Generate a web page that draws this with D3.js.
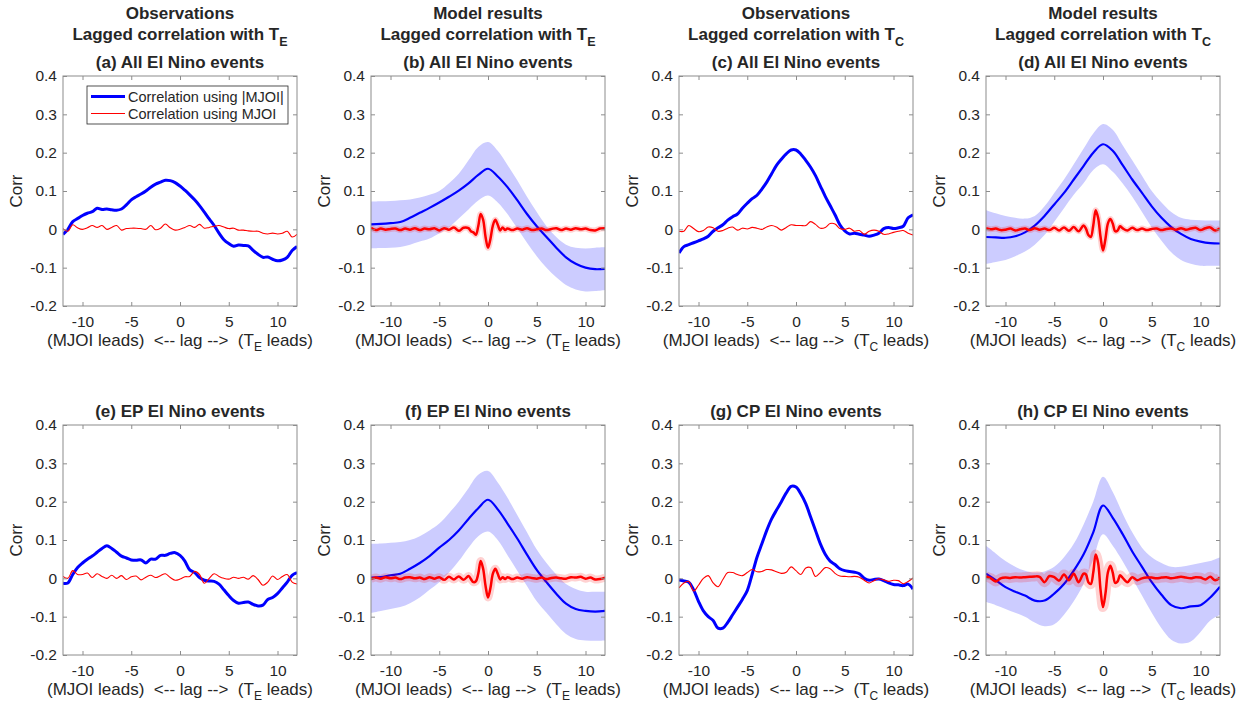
<!DOCTYPE html>
<html>
<head>
<meta charset="utf-8">
<script src="https://cdn.jsdelivr.net/npm/d3@7"></script>
<style>
  body { margin: 0; background: #fff; }
  text { font-family: "Liberation Sans", Arial, Helvetica, sans-serif; fill: #262626; }
</style>
</head>
<body>
<svg id="chart" width="1252" height="707"></svg>
<script>
// lags (months)
const lagObs = [-12, -11.5, -11, -10.5, -10, -9.5, -9, -8.5, -8, -7.5, -7, -6.5, -6, -5.5, -5, -4.5, -4, -3.5, -3, -2.5, -2, -1.5, -1, -0.5,
  0, 0.5, 1, 1.5, 2, 2.5, 3, 3.5, 4, 4.5, 5, 5.5, 6, 6.5, 7, 7.5, 8, 8.5, 9, 9.5, 10, 10.5, 11, 11.5, 12]
const lagModel = [-12, -11, -10, -9, -8, -7, -6, -5, -4, -3, -2, -1, 0, 1, 2, 3, 4, 5, 6, 7, 8, 9, 10, 11, 12]
const lagFine = [-12, -11.5, -11, -10.5, -10, -9.5, -9, -8.5, -8, -7.5, -7, -6.5, -6, -5.5, -5, -4.5, -4, -3.5, -3, -2.5,
  -2, -1.75, -1.5, -1.25, -1, -0.75, -0.5, -0.25, 0, 0.25, 0.5, 0.75, 1, 1.25, 1.5, 1.75, 2,
  2.5, 3, 3.5, 4, 4.5, 5, 5.5, 6, 6.5, 7, 7.5, 8, 8.5, 9, 9.5, 10, 10.5, 11, 11.5, 12]

const yTicks = [-0.2, -0.1, 0, 0.1, 0.2, 0.3, 0.4]
const xTicks = [-10, -5, 0, 5, 10]

// observations, T_E
const blueA = [-0.013, 0.0, 0.02, 0.028, 0.036, 0.042, 0.046, 0.055, 0.052, 0.053, 0.051, 0.05, 0.053, 0.064, 0.077, 0.085, 0.092, 0.1, 0.11, 0.118, 0.123, 0.128, 0.127, 0.122,
  0.113, 0.102, 0.09, 0.077, 0.062, 0.045, 0.027, 0.01, -0.01, -0.027, -0.037, -0.044, -0.041, -0.042, -0.043, -0.055, -0.065, -0.073, -0.072, -0.078, -0.082, -0.08, -0.073, -0.055, -0.045]
const redA = [0.002, -0.005, 0.012, 0.004, 0.0, 0.004, 0.01, 0.005, 0.01, 0.0, 0.005, 0.01, -0.002, 0.002, 0.003, 0.003, 0.002, 0.0, 0.01, -0.001, 0.003, 0.014, 0.004, -0.002,
  0.0, 0.005, 0.01, 0.005, 0.013, 0.003, 0.005, 0.008, 0.01, 0.006, 0.002, 0.003, -0.002, -0.002, -0.004, -0.005, -0.005, -0.01, -0.012, -0.01, -0.012, -0.01, -0.005, -0.02, -0.013]
const blueE = [-0.013, -0.012, 0.01, 0.028, 0.04, 0.05, 0.058, 0.068, 0.078, 0.085, 0.078, 0.068, 0.058, 0.053, 0.048, 0.047, 0.048, 0.04, 0.05, 0.05, 0.06, 0.06, 0.065, 0.067,
  0.06, 0.045, 0.022, 0.015, 0.002, -0.005, -0.007, -0.008, -0.015, -0.03, -0.045, -0.058, -0.065, -0.063, -0.062, -0.068, -0.072, -0.07, -0.055, -0.05, -0.04, -0.025, -0.01, 0.008, 0.015]
const redE = [0.005, 0.0, 0.02, 0.01, 0.01, 0.014, 0.002, 0.012, 0.005, 0.0, 0.008, 0.0, 0.007, -0.003, 0.004, 0.006, -0.004, 0.003, 0.008, 0.002, 0.007, 0.012, 0.002, -0.005,
  -0.002, 0.004, 0.005, 0.018, 0.01, -0.013, 0.0, 0.012, 0.005, 0.0, -0.002, 0.003, 0.0, 0.003, -0.002, 0.007, -0.003, -0.018, -0.01, 0.006, -0.003, 0.005, 0.01, -0.01, -0.015]

// observations, T_C
const blueC = [-0.062, -0.045, -0.04, -0.035, -0.03, -0.025, -0.018, -0.005, 0.004, 0.012, 0.024, 0.033, 0.04, 0.055, 0.068, 0.08, 0.089, 0.105, 0.123, 0.145, 0.167, 0.183, 0.197, 0.207,
  0.207, 0.196, 0.18, 0.162, 0.14, 0.113, 0.086, 0.062, 0.038, 0.012, -0.004, -0.012, -0.01, -0.013, -0.015, -0.018, -0.015, -0.01, 0.002, 0.005, 0.002, 0.004, 0.008, 0.03, 0.038]
const redC = [-0.005, -0.005, 0.01, 0.002, -0.006, -0.003, 0.006, 0.004, -0.005, -0.003, 0.003, 0.006, -0.002, 0.003, 0.001, 0.005, 0.003, 0.0, 0.006, 0.01, 0.006, -0.002, 0.005, 0.012,
  0.01, 0.01, 0.01, 0.02, 0.013, 0.003, 0.005, 0.015, 0.014, 0.002, 0.0, 0.003, -0.005, -0.003, -0.013, -0.005, -0.002, -0.005, -0.013, -0.012, -0.008, -0.005, -0.003, -0.01, -0.015]
const blueG = [-0.004, -0.007, -0.01, -0.03, -0.06, -0.085, -0.1, -0.11, -0.13, -0.13, -0.115, -0.095, -0.075, -0.055, -0.032, 0.01, 0.055, 0.09, 0.125, 0.155, 0.178, 0.2, 0.223, 0.24,
  0.238, 0.22, 0.195, 0.16, 0.125, 0.09, 0.063, 0.045, 0.036, 0.025, 0.02, 0.018, 0.016, 0.012, 0.0, -0.005, -0.003, -0.002, -0.006, -0.012, -0.016, -0.017, -0.019, -0.015, -0.028]
const redG = [-0.025, -0.012, -0.008, -0.033, -0.018, 0.0, 0.007, -0.012, -0.022, -0.003, 0.015, 0.015, 0.01, 0.007, 0.015, 0.023, 0.017, 0.018, 0.023, 0.022, 0.017, 0.013, 0.016, 0.03,
  0.02, 0.01, 0.027, 0.028, 0.005, 0.015, 0.028, 0.025, 0.013, 0.006, 0.005, 0.004, 0.005, 0.003, -0.005, -0.012, -0.006, -0.001, -0.004, -0.008, -0.005, -0.006, -0.014, -0.008, 0.001]

// model results: ensemble mean of |MJOI| correlation and its spread
const blueB = [0.013, 0.014, 0.016, 0.019, 0.03, 0.043, 0.056, 0.07, 0.085, 0.101, 0.12, 0.142, 0.158, 0.138, 0.11, 0.076, 0.04, 0.008, -0.02, -0.048, -0.073, -0.09, -0.1, -0.104, -0.103]
const upperB = [0.072, 0.073, 0.074, 0.076, 0.078, 0.083, 0.09, 0.1, 0.12, 0.145, 0.18, 0.215, 0.228, 0.205, 0.168, 0.128, 0.085, 0.045, 0.008, -0.02, -0.04, -0.048, -0.05, -0.048, -0.047]
const lowerB = [-0.05, -0.049, -0.048, -0.046, -0.04, -0.032, -0.024, -0.01, 0.005, 0.028, 0.052, 0.075, 0.088, 0.07, 0.04, 0.003, -0.035, -0.07, -0.1, -0.125, -0.145, -0.157, -0.162, -0.161, -0.158]
const blueD = [-0.02, -0.021, -0.022, -0.018, -0.008, 0.01, 0.035, 0.065, 0.095, 0.13, 0.165, 0.2, 0.222, 0.205, 0.168, 0.13, 0.095, 0.06, 0.03, 0.006, -0.012, -0.025, -0.032, -0.036, -0.037]
const upperD = [0.05, 0.042, 0.035, 0.03, 0.028, 0.035, 0.06, 0.095, 0.13, 0.17, 0.21, 0.25, 0.275, 0.26, 0.22, 0.18, 0.14, 0.1, 0.07, 0.045, 0.03, 0.025, 0.024, 0.023, 0.023]
const lowerD = [-0.09, -0.085, -0.08, -0.07, -0.058, -0.04, -0.015, 0.02, 0.055, 0.09, 0.12, 0.155, 0.17, 0.15, 0.12, 0.085, 0.045, 0.005, -0.03, -0.06, -0.08, -0.09, -0.095, -0.095, -0.095]
const blueF = [0.002, 0.003, 0.008, 0.012, 0.025, 0.04, 0.058, 0.08, 0.1, 0.125, 0.155, 0.183, 0.205, 0.18, 0.143, 0.104, 0.062, 0.022, -0.01, -0.04, -0.066, -0.08, -0.085, -0.087, -0.085]
const upperF = [0.09, 0.091, 0.093, 0.095, 0.1, 0.11, 0.125, 0.143, 0.17, 0.2, 0.235, 0.27, 0.28, 0.25, 0.21, 0.165, 0.12, 0.075, 0.04, 0.01, -0.015, -0.028, -0.035, -0.035, -0.035]
const lowerF = [-0.09, -0.085, -0.08, -0.075, -0.065, -0.05, -0.03, -0.01, 0.015, 0.045, 0.08, 0.11, 0.122, 0.1, 0.06, 0.02, -0.02, -0.06, -0.09, -0.12, -0.145, -0.158, -0.162, -0.163, -0.162]
const blueH = [0.012, -0.005, -0.023, -0.035, -0.045, -0.058, -0.058, -0.04, -0.015, 0.02, 0.062, 0.12, 0.19, 0.158, 0.116, 0.07, 0.03, -0.01, -0.043, -0.07, -0.078, -0.073, -0.07, -0.05, -0.022]
const upperH = [0.085, 0.065, 0.045, 0.03, 0.02, 0.015, 0.018, 0.03, 0.055, 0.09, 0.14, 0.2, 0.265, 0.225, 0.17, 0.12, 0.08, 0.055, 0.04, 0.03, 0.03, 0.035, 0.04, 0.045, 0.055]
const lowerH = [-0.062, -0.07, -0.08, -0.09, -0.1, -0.115, -0.125, -0.12, -0.095, -0.06, -0.015, 0.05, 0.115, 0.085, 0.045, 0.0, -0.045, -0.09, -0.13, -0.16, -0.17, -0.165, -0.14, -0.11, -0.095]

// model results: ensemble mean of signed MJOI correlation (on lagFine)
const redB = [0.004, -0.002, 0.002, -0.001, 0.001, 0.002, -0.002, 0.002, -0.001, 0.003, -0.002, 0.002, 0.0, 0.003, -0.003, 0.003, -0.001, 0.005, -0.004, 0.004,
  0.003, -0.005, -0.008, -0.014, 0.008, 0.04, 0.025, -0.02, -0.048, -0.025, 0.01, 0.025, 0.012, -0.003, 0.005, -0.002, 0.002,
  -0.002, 0.002, -0.001, 0.003, -0.002, 0.0, 0.002, -0.002, 0.001, 0.003, -0.002, 0.002, -0.001, 0.003, 0.0, 0.002, -0.002, -0.003, 0.002, 0.003]
const redD = [0.003, 0.0, 0.002, -0.002, -0.001, 0.002, -0.003, 0.0, 0.002, -0.002, 0.003, -0.001, 0.002, -0.002, 0.004, -0.003, 0.005, -0.004, 0.006, -0.005,
  0.01, 0.002, -0.015, -0.02, 0.01, 0.05, 0.03, -0.02, -0.055, -0.025, 0.015, 0.027, 0.015, -0.005, -0.003, 0.008, 0.003,
  -0.003, 0.004, -0.002, 0.002, -0.002, 0.001, 0.002, -0.002, 0.001, 0.002, -0.001, 0.003, -0.001, 0.002, 0.004, -0.002, 0.003, 0.005, -0.003, 0.003]
const redF = [-0.002, 0.002, -0.001, 0.003, 0.0, 0.002, -0.002, 0.002, 0.003, 0.0, 0.002, -0.002, 0.003, -0.001, 0.003, -0.004, 0.004, -0.003, 0.005, -0.004,
  0.006, -0.002, -0.01, -0.008, 0.012, 0.045, 0.025, -0.02, -0.05, -0.025, 0.012, 0.025, 0.012, -0.003, 0.003, -0.002, 0.003,
  -0.002, 0.002, -0.001, 0.003, 0.001, -0.001, 0.002, -0.002, 0.001, 0.002, 0.0, -0.001, 0.003, 0.002, 0.004, -0.001, 0.002, -0.003, -0.002, 0.002]
const redH = [0.005, 0.0, -0.008, 0.0, 0.002, 0.001, 0.003, 0.002, 0.003, 0.004, 0.005, 0.004, -0.01, 0.006, 0.003, -0.006, 0.01, -0.005, 0.012, -0.01,
  0.012, 0.01, -0.01, -0.015, 0.015, 0.062, 0.04, -0.03, -0.075, -0.04, 0.015, 0.033, 0.015, -0.012, -0.008, 0.008, 0.002,
  -0.01, 0.003, -0.005, 0.0, 0.002, 0.002, 0.0, 0.002, 0.003, 0.0, 0.002, 0.004, 0.002, 0.0, 0.003, 0.002, -0.003, 0.004, -0.005, 0.002]

const panels = [
  { col: 0, row: 0, head: 'Observations', idx: 'E', sub: '(a) All El Nino events', blue: blueA, red: redA, legend: true },
  { col: 1, row: 0, head: 'Model results', idx: 'E', sub: '(b) All El Nino events', blue: blueB, upper: upperB, lower: lowerB, red: redB, band: 6 },
  { col: 2, row: 0, head: 'Observations', idx: 'C', sub: '(c) All El Nino events', blue: blueC, red: redC },
  { col: 3, row: 0, head: 'Model results', idx: 'C', sub: '(d) All El Nino events', blue: blueD, upper: upperD, lower: lowerD, red: redD, band: 6 },
  { col: 0, row: 1, idx: 'E', sub: '(e) EP El Nino events', blue: blueE, red: redE },
  { col: 1, row: 1, idx: 'E', sub: '(f) EP El Nino events', blue: blueF, upper: upperF, lower: lowerF, red: redF, band: 8 },
  { col: 2, row: 1, idx: 'C', sub: '(g) CP El Nino events', blue: blueG, red: redG },
  { col: 3, row: 1, idx: 'C', sub: '(h) CP El Nino events', blue: blueH, upper: upperH, lower: lowerH, red: redH, band: 10 }
]

const colLeft = [63, 371, 679, 986]
const rowTop = [76, 425]
const W = 234
const H = 230

const svg = d3.select('#chart')

const x = d3.scaleLinear().domain([-12, 12]).range([0, W])
const y = d3.scaleLinear().domain([-0.2, 0.4]).range([H, 0])

const fmt = (d) => String(d)

svg.append('defs').append('clipPath').attr('id', 'plotclip')
  .append('rect').attr('width', W).attr('height', H)

panels.forEach((p) => {
  const g = svg.append('g').attr('transform', `translate(${colLeft[p.col]},${rowTop[p.row]})`)
  const model = !!p.upper
  const plot = g.append('g').attr('clip-path', 'url(#plotclip)')

  if (model) {
    const band = lagModel.map((l, i) => ({ l, lo: p.lower[i], hi: p.upper[i] }))
    plot.append('path')
      .datum(band)
      .attr('fill', '#ccccff')
      .attr('d', d3.area().x((d) => x(d.l)).y0((d) => y(d.lo)).y1((d) => y(d.hi)).curve(d3.curveCatmullRom))
  }

  const blueX = model ? lagModel : lagObs
  const redX = model ? lagFine : lagObs
  const line = d3.line().x((d) => x(d[0])).y((d) => y(d[1])).curve(d3.curveCatmullRom)

  plot.append('path')
    .datum(blueX.map((l, i) => [l, p.blue[i]]))
    .attr('fill', 'none')
    .attr('stroke', '#0000ff')
    .attr('stroke-width', model ? 2.2 : 3)
    .attr('stroke-linejoin', 'round')
    .attr('d', line)

  const redData = redX.map((l, i) => [l, p.red[i]])
  if (model) {
    plot.append('path')
      .datum(redData)
      .attr('fill', 'none')
      .attr('stroke', 'rgba(255,0,0,0.18)')
      .attr('stroke-width', p.band)
      .attr('stroke-linejoin', 'round')
      .attr('d', line)
  }
  plot.append('path')
    .datum(redData)
    .attr('fill', 'none')
    .attr('stroke', '#ff0000')
    .attr('stroke-width', model ? 2.5 : 1.1)
    .attr('stroke-linejoin', 'round')
    .attr('d', line)

  // axes with inward ticks on all four sides
  const axes = [
    { ax: d3.axisLeft(y).tickValues(yTicks).tickFormat(fmt), t: 'translate(0,0)' },
    { ax: d3.axisRight(y).tickValues(yTicks).tickFormat(''), t: `translate(${W},0)` },
    { ax: d3.axisBottom(x).tickValues(xTicks).tickFormat(fmt), t: `translate(0,${H})` },
    { ax: d3.axisTop(x).tickValues(xTicks).tickFormat(''), t: 'translate(0,0)' }
  ]
  axes.forEach((a, k) => {
    const ag = g.append('g').attr('transform', a.t)
      .call(a.ax.tickSizeInner(-4).tickSizeOuter(0).tickPadding(k === 0 ? 6 : 10))
    ag.select('.domain').remove()
    ag.selectAll('line').attr('stroke', '#8c8c8c')
    ag.selectAll('text').style('font-size', '15.5px').attr('fill', '#262626')
      .style('font-family', '"Liberation Sans", Arial, Helvetica, sans-serif')
  })

  g.append('rect')
    .attr('width', W).attr('height', H)
    .attr('fill', 'none').attr('stroke', '#8c8c8c').attr('stroke-width', 1)

  // y label
  g.append('text')
    .attr('transform', `translate(-41,${H / 2}) rotate(-90)`)
    .attr('text-anchor', 'middle')
    .style('font-size', '17px')
    .text('Corr')

  // x label
  const xl = g.append('text')
    .attr('x', W / 2).attr('y', H + 40)
    .attr('text-anchor', 'middle')
    .style('font-size', '17px')
    .style('white-space', 'pre')
  xl.append('tspan').text('(MJOI leads)  <-- lag -->  (T')
  xl.append('tspan').attr('dy', 5).style('font-size', '12px').text(p.idx)
  xl.append('tspan').attr('dy', -5).text(' leads)')

  // titles
  if (p.head) {
    g.append('text')
      .attr('x', W / 2).attr('y', 19 - rowTop[p.row])
      .attr('text-anchor', 'middle')
      .style('font-size', '17px').style('font-weight', 'bold')
      .text(p.head)
    const t2 = g.append('text')
      .attr('x', W / 2).attr('y', 40 - rowTop[p.row])
      .attr('text-anchor', 'middle')
      .style('font-size', '17px').style('font-weight', 'bold')
    t2.append('tspan').text('Lagged correlation with T')
    t2.append('tspan').attr('dy', 6).style('font-size', '12.5px').text(p.idx)
  }
  g.append('text')
    .attr('x', W / 2).attr('y', -8)
    .attr('text-anchor', 'middle')
    .style('font-size', '17px').style('font-weight', 'bold')
    .text(p.sub)

  if (p.legend) {
    const lg = g.append('g').attr('transform', 'translate(24,10)')
    lg.append('rect').attr('width', 201).attr('height', 38)
      .attr('fill', '#fff').attr('stroke', '#262626').attr('stroke-width', 0.8)
    const items = [
      { label: 'Correlation using |MJOI|', color: '#0000ff', w: 3, yy: 10.5 },
      { label: 'Correlation using MJOI', color: '#ff0000', w: 1.1, yy: 27.5 }
    ]
    items.forEach((it) => {
      lg.append('line').attr('x1', 4).attr('x2', 38).attr('y1', it.yy).attr('y2', it.yy)
        .attr('stroke', it.color).attr('stroke-width', it.w)
      lg.append('text').attr('x', 41).attr('y', it.yy + 5)
        .style('font-size', '14.5px').text(it.label)
    })
  }
})
</script>
</body>
</html>
